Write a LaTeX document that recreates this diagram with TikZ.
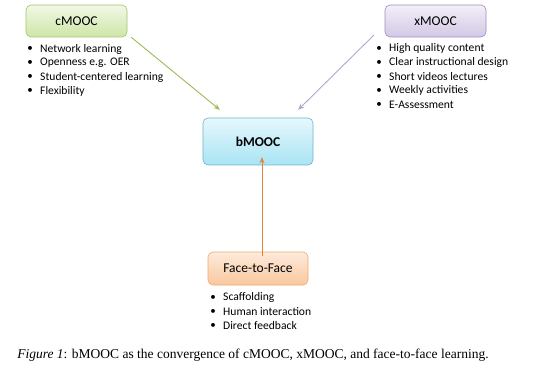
\documentclass[tikz,border=0pt]{standalone}
\usepackage{fontspec}
\setmainfont{Carlito}
\newfontfamily\capfont{Liberation Serif}
\usetikzlibrary{arrows.meta,shadows}
\definecolor{gbord}{HTML}{A6C46E}
\definecolor{gtop}{HTML}{F1F8E6}
\definecolor{gbot}{HTML}{CDE6A6}
\definecolor{pbord}{HTML}{9F8CC0}
\definecolor{ptop}{HTML}{F3EFF8}
\definecolor{pbot}{HTML}{D3C8E6}
\definecolor{bbord}{HTML}{6FB3CC}
\definecolor{btop}{HTML}{E6F8FD}
\definecolor{bbot}{HTML}{A9E4F4}
\definecolor{obord}{HTML}{F3A86A}
\definecolor{otop}{HTML}{FDEBDC}
\definecolor{obot}{HTML}{F9C79E}
\definecolor{garr}{HTML}{9BBB59}
\definecolor{parr}{HTML}{B3A5D2}
\definecolor{oarr}{HTML}{E3833A}
\begin{document}
\begin{tikzpicture}[x=1pt,y=-1pt,
  boxst/.style={rounded corners=5pt, line width=0.6pt},
  bl/.style={anchor=west, inner sep=0pt, font=\fontsize{11.6}{13}\selectfont},
  dot/.style={anchor=center, inner sep=0pt, font=\fontsize{11}{13}\selectfont},
  lab/.style={font=\fontsize{13.5}{15}\selectfont},
  arr/.style={line width=0.9pt, -{Stealth[length=6pt,width=5pt]}}]
\useasboundingbox[fill=white] (0,0) rectangle (544,377);
% boxes
\path[boxst, draw=gbord, top color=gtop, bottom color=gbot] (26,5) rectangle (127,37);
\node[lab] (cmooc) at (76.5,21) [minimum width=101pt, minimum height=32pt] {cMOOC};
\path[boxst, draw=pbord, top color=ptop, bottom color=pbot] (385,5) rectangle (486,37);
\node[lab] (xmooc) at (435.5,21) [minimum width=101pt, minimum height=32pt] {xMOOC};
\path[boxst, draw=bbord, top color=btop, bottom color=bbot] (203,118) rectangle (313,165);
\node[lab] (bmooc) at (258,141.5) [font=\bfseries\fontsize{13.5}{15}\selectfont, minimum width=110pt, minimum height=47pt] {bMOOC};
\path[boxst, draw=obord, top color=otop, bottom color=obot] (208,252) rectangle (308,285);
\node[lab] (f2f) at (258,268.5) [minimum width=100pt, minimum height=33pt] {Face-to-Face};
% cMOOC bullets
\foreach \t [count=\i] in {Network learning, Openness e.g. OER, Student-centered learning, Flexibility}{
  \node[dot] (cd\i) at (30,{35+14*\i}) {•};
  \node[bl] (ct\i) at (40,{35+14*\i}) {\t};
}
% xMOOC bullets
\foreach \t [count=\i] in {High quality content, Clear instructional design, Short videos lectures, Weekly activities, E-Assessment}{
  \node[dot] (xd\i) at (379,{34.5+14*\i}) {•};
  \node[bl] (xt\i) at (389,{34.5+14*\i}) {\t};
}
% F2F bullets
\foreach \t [count=\i] in {Scaffolding, Human interaction, Direct feedback}{
  \node[dot] (fd\i) at (213,{283.5+14*\i}) {•};
  \node[bl] (ft\i) at (223,{283.5+14*\i}) {\t};
}
% arrows
\draw[arr, garr] ([shift={(4pt,0pt)}]cmooc.south east) -- ([shift={(17pt,8pt)}]bmooc.north west);
\draw[arr, parr] ([shift={(-11pt,2pt)}]xmooc.south west) -- ([shift={(-15pt,8pt)}]bmooc.north east);
\draw[arr, oarr] ([shift={(4pt,-4pt)}]f2f.north) -- ([shift={(4pt,8pt)}]bmooc.south);
% caption
\node (cap) at (253,355) [font=\capfont\fontsize{13.5}{15}\selectfont] {\textit{Figure 1}: bMOOC as the convergence of cMOOC, xMOOC, and face-to-face learning.};
\end{tikzpicture}
\end{document}
